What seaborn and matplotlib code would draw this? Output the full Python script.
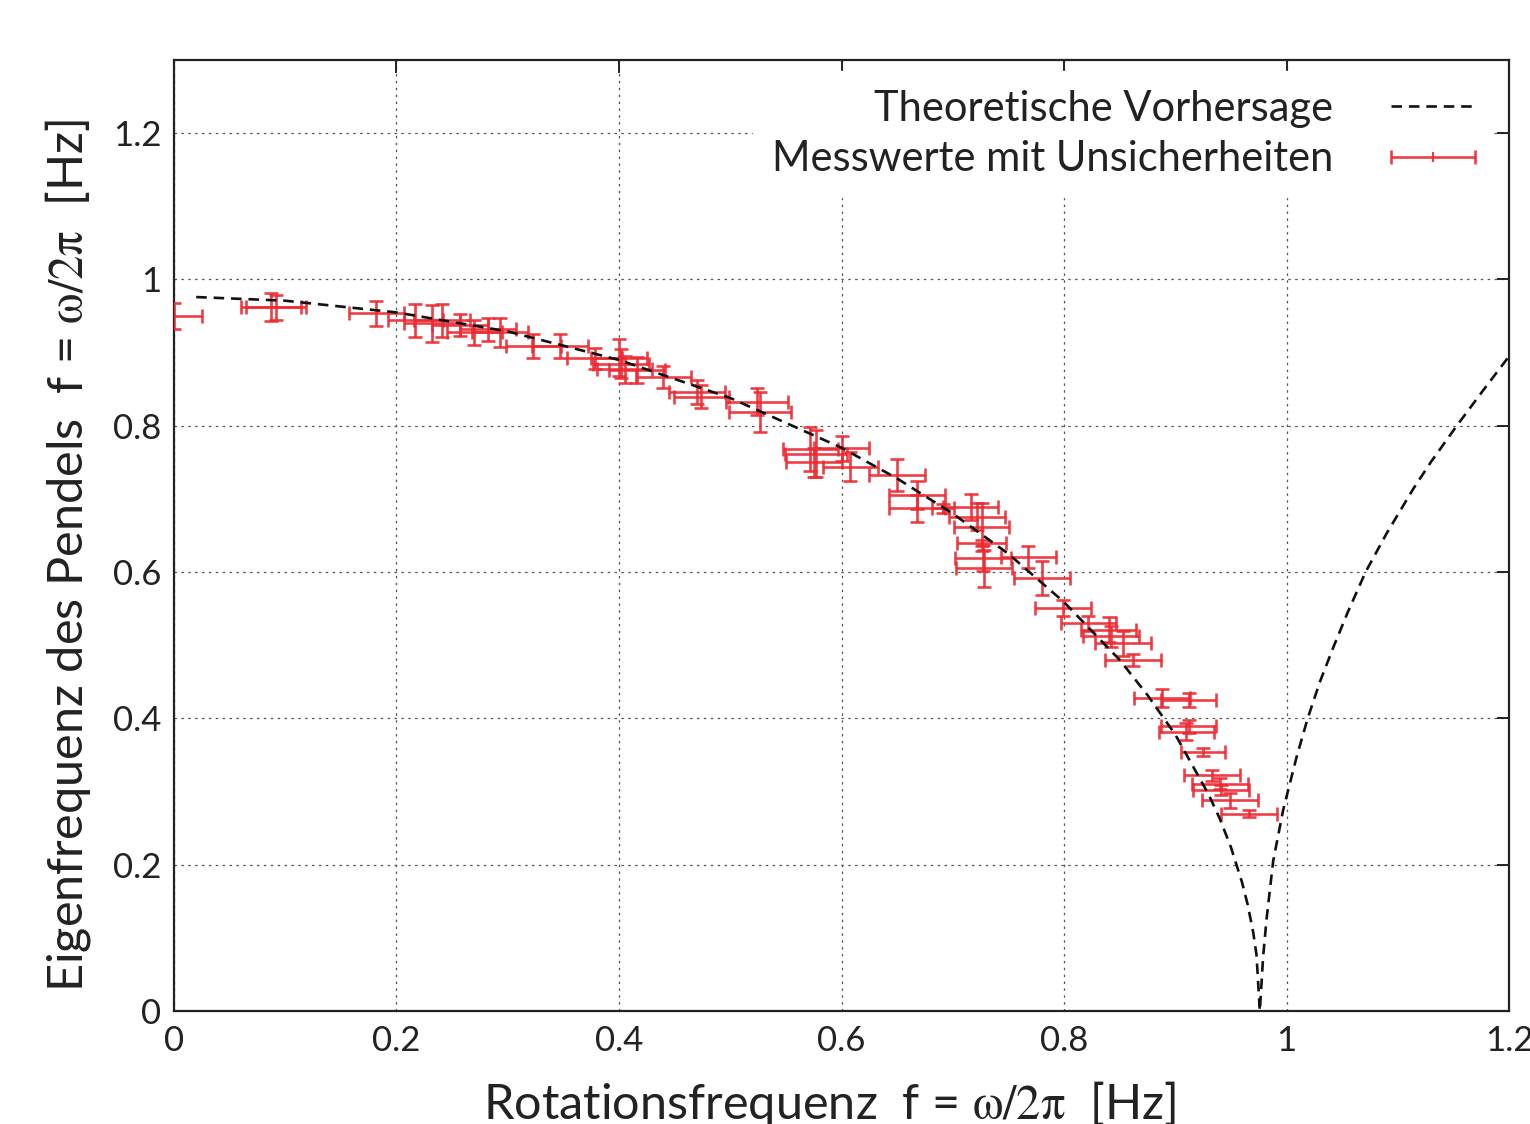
import matplotlib

matplotlib.use("Agg")
import matplotlib.pyplot as plt
import pandas as pd
import seaborn as sns
from matplotlib.container import ErrorbarContainer
from matplotlib.legend_handler import HandlerErrorbar
from matplotlib.lines import Line2D

# theoretical prediction
theory_x = [0.02, 0.10, 0.20, 0.30, 0.40, 0.50, 0.60, 0.65, 0.70, 0.75, 0.80, 0.85,
            0.875, 0.90, 0.93, 0.94, 0.95, 0.96, 0.965, 0.97, 0.973, 0.976, 0.979,
            0.982, 0.988, 0.997, 1.009, 1.019, 1.030, 1.042, 1.055, 1.071, 1.090,
            1.114, 1.130, 1.153, 1.177, 1.200]
theory_y = [0.976, 0.971, 0.955, 0.929, 0.890, 0.838, 0.770, 0.728, 0.680, 0.625,
            0.559, 0.480, 0.432, 0.378, 0.296, 0.263, 0.224, 0.176, 0.146, 0.108,
            0.077, 0.0, 0.075, 0.125, 0.205, 0.275, 0.347, 0.400, 0.450, 0.497,
            0.545, 0.600, 0.653, 0.714, 0.751, 0.800, 0.849, 0.895]

# measured values with uncertainties
meas_x = [0.000, 0.087, 0.092, 0.182, 0.217, 0.232, 0.241, 0.257, 0.270, 0.282,
          0.293, 0.323, 0.347, 0.378, 0.400, 0.402, 0.405, 0.416, 0.440, 0.470,
          0.474, 0.524, 0.527, 0.572, 0.577, 0.575, 0.600, 0.608, 0.650, 0.668,
          0.668, 0.691, 0.716, 0.722, 0.726, 0.726, 0.727, 0.728, 0.768, 0.780,
          0.799, 0.822, 0.840, 0.842, 0.853, 0.862, 0.888, 0.912, 0.912, 0.910,
          0.925, 0.933, 0.940, 0.941, 0.949, 0.966]
meas_y = [0.950, 0.962, 0.962, 0.954, 0.944, 0.940, 0.944, 0.938, 0.928, 0.932,
          0.928, 0.909, 0.909, 0.892, 0.893, 0.885, 0.877, 0.876, 0.867, 0.846,
          0.840, 0.833, 0.819, 0.768, 0.762, 0.750, 0.769, 0.744, 0.733, 0.705,
          0.687, 0.687, 0.689, 0.676, 0.662, 0.640, 0.619, 0.605, 0.621, 0.592,
          0.551, 0.530, 0.521, 0.512, 0.503, 0.480, 0.428, 0.425, 0.389, 0.382,
          0.354, 0.322, 0.311, 0.302, 0.288, 0.270]
meas_xerr = [0.025, 0.027, 0.027, 0.025, 0.025, 0.025, 0.025, 0.025, 0.025, 0.025,
             0.025, 0.025, 0.025, 0.025, 0.025, 0.025, 0.025, 0.025, 0.025, 0.025,
             0.025, 0.028, 0.028, 0.025, 0.028, 0.025, 0.025, 0.025, 0.025, 0.025,
             0.025, 0.010, 0.025, 0.025, 0.025, 0.022, 0.025, 0.025, 0.025, 0.025,
             0.025, 0.025, 0.025, 0.025, 0.025, 0.025, 0.025, 0.025, 0.025, 0.025,
             0.020, 0.025, 0.025, 0.025, 0.025, 0.025]
meas_yerr = [0.018, 0.019, 0.017, 0.017, 0.023, 0.025, 0.022, 0.015, 0.017, 0.016,
             0.020, 0.017, 0.017, 0.015, 0.025, 0.020, 0.018, 0.018, 0.015, 0.016,
             0.016, 0.018, 0.027, 0.030, 0.032, 0.020, 0.017, 0.020, 0.022, 0.019,
             0.019, 0.006, 0.018, 0.018, 0.033, 0.004, 0.018, 0.025, 0.015, 0.023,
             0.011, 0.010, 0.017, 0.015, 0.017, 0.008, 0.012, 0.010, 0.009, 0.012,
             0.006, 0.007, 0.007, 0.007, 0.010, 0.005]

tick_values = [0, 0.2, 0.4, 0.6, 0.8, 1.0, 1.2]
tick_labels = ["0", "0.2", "0.4", "0.6", "0.8", "1", "1.2"]

theory = pd.DataFrame({"x": theory_x, "y": theory_y})
meas = pd.DataFrame({"x": meas_x, "y": meas_y, "xerr": meas_xerr, "yerr": meas_yerr})

sns.set_theme(style="white")
plt.rcParams["font.family"] = ["Lato", "DejaVu Sans"]
plt.rcParams["mathtext.fontset"] = "stix"
for key in ["text.color", "axes.labelcolor", "xtick.color", "ytick.color"]:
    plt.rcParams[key] = "#222222"

fig = plt.figure(figsize=(15.3, 11.24), dpi=100)
ax = fig.add_axes([0.1137, 0.1005, 0.8726, 0.8461])

red = "#ec2a32"
meas_bars = ax.errorbar(meas["x"], meas["y"], xerr=meas["xerr"], yerr=meas["yerr"],
                        fmt="none", ecolor=red, elinewidth=1.9, capsize=5, capthick=1.9,
                        alpha=0.9, zorder=3)
sns.lineplot(data=theory, x="x", y="y", ax=ax, color="#111111", linewidth=1.9,
             linestyle=(0, (4, 2.6)), estimator=None, sort=False, zorder=4,
             label="Theoretische Vorhersage")

ax.set_xlim(0, 1.2)
ax.set_ylim(0, 1.3)
ax.set_xticks(tick_values)
ax.set_xticklabels(tick_labels)
ax.set_yticks(tick_values)
ax.set_yticklabels(tick_labels)
ax.tick_params(direction="in", length=9, width=1.4, labelsize=25, color="#222222",
               top=True, right=True, pad=10)
ax.tick_params(axis="y", pad=9)
ax.grid(True, color="#555555", linestyle=(0, (2, 3.5)), linewidth=0.9)
for spine in ax.spines.values():
    spine.set_color("#222222")
    spine.set_linewidth(1.6)

ax.set_xlabel(r"Rotationsfrequenz  f = $\mathrm{\omega/2\pi}$  [Hz]", fontsize=35)
ax.set_ylabel(r"Eigenfrequenz des Pendels  f = $\mathrm{\omega/2\pi}$  [Hz]", fontsize=35)
ax.xaxis.set_label_coords(0.491, -0.071)
ax.yaxis.set_label_coords(-0.061, 0.479)

# legend: measured values shown with a horizontal bar and a centre tick, like the original
line_handle = ax.get_legend_handles_labels()[0][0]
centre_tick = Line2D([], [], color=red, marker="|", markersize=7, markeredgewidth=1.6,
                     linestyle="none", alpha=0.9)
meas_handle = ErrorbarContainer((centre_tick, meas_bars.lines[1], meas_bars.lines[2]),
                                has_xerr=True, has_yerr=False)
leg = ax.legend([line_handle, meas_handle],
                ["Theoretische Vorhersage", "Messwerte mit Unsicherheiten"],
                handler_map={ErrorbarContainer: HandlerErrorbar(xerr_size=1.0)},
                loc="upper right", bbox_to_anchor=(0.993, 0.995), fontsize=30,
                frameon=True, framealpha=1.0, edgecolor="white", facecolor="white",
                markerfirst=False, handlelength=2.0, handletextpad=1.4,
                labelspacing=0.3, borderpad=0.45, borderaxespad=0.15, fancybox=False)
leg.set_zorder(5)

fig.savefig("out.png", dpi=100)
plt.close(fig)
